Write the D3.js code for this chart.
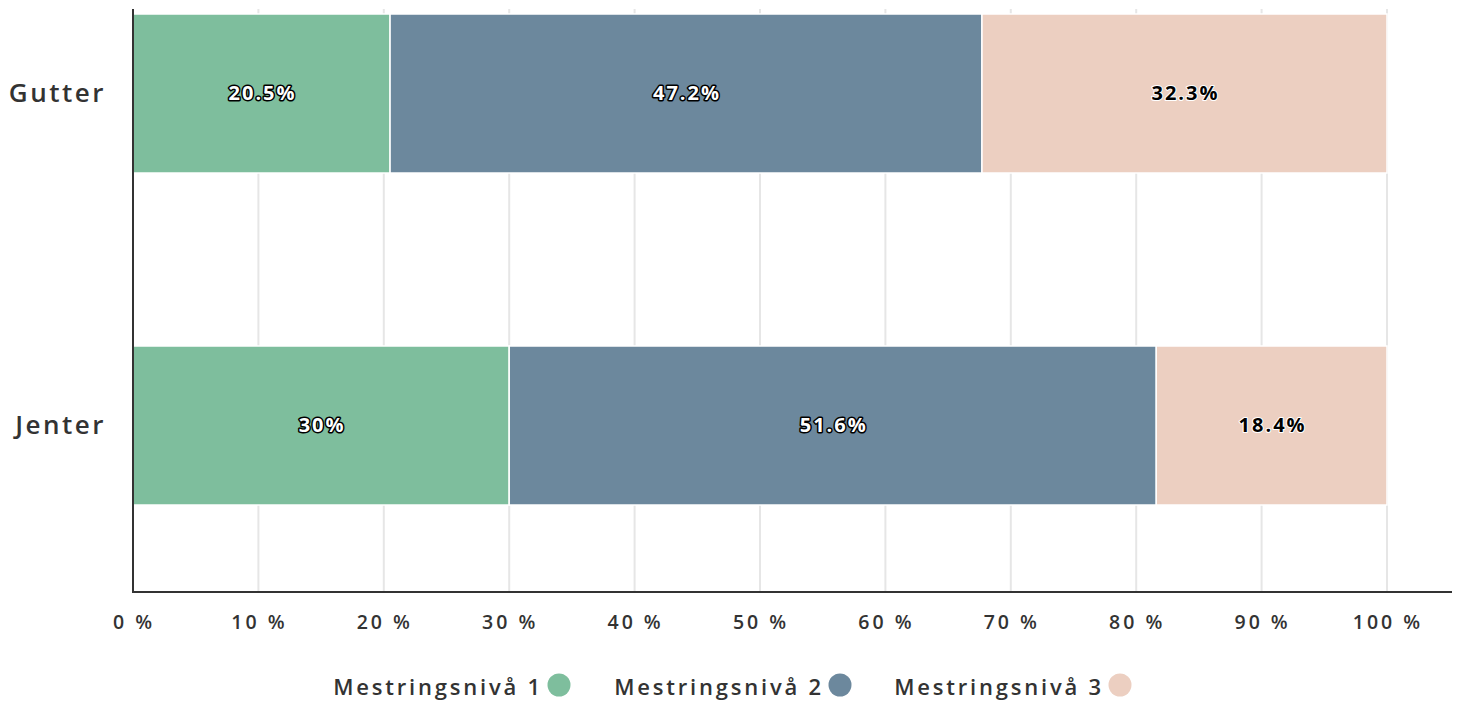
<!DOCTYPE html>
<html><head><meta charset="utf-8">
<script src="https://cdn.jsdelivr.net/npm/d3@7"></script>
<style>body{margin:0;background:#fff}svg{display:block}text{font-family:"Open Sans",sans-serif}</style>
</head><body>
<svg id="c" width="1460" height="702"></svg>
<script>
const categories = ["Gutter", "Jenter"];
const seriesNames = ["Mestringsnivå 1", "Mestringsnivå 2", "Mestringsnivå 3"];
const level1 = [20.5, 30];
const level2 = [47.2, 51.6];
const level3 = [32.3, 18.4];
const labels1 = ["20.5%", "30%"];
const labels2 = ["47.2%", "51.6%"];
const labels3 = ["32.3%", "18.4%"];
const xTicks = [0,10,20,30,40,50,60,70,80,90,100];
const colors = ["#7ebe9d", "#6c889d", "#eccfc1"];

const svg = d3.select("#c");
const x = d3.scaleLinear().domain([0, 100]).range([133, 1387]);
const y = d3.scalePoint().domain(categories).range([93.5, 425.5]);
const barH = 159;
const plotTop = 9, plotBottom = 592, axisRight = 1452;

// grid
svg.append("g").selectAll("line").data(xTicks.slice(1)).join("line")
  .attr("x1", d => x(d)).attr("x2", d => x(d))
  .attr("y1", plotTop).attr("y2", plotBottom)
  .attr("stroke", "#e6e6e6").attr("stroke-width", 2);

const series = [level1, level2, level3];
const lbls = [labels1, labels2, labels3];
const g = svg.append("g");
categories.forEach((c, i) => {
  let acc = 0;
  series.forEach((s, k) => {
    const v = s[i];
    const x0 = x(acc), x1 = x(acc + v);
    g.append("rect").attr("x", x0).attr("y", y(c) - barH/2)
      .attr("width", x1 - x0).attr("height", barH)
      .attr("fill", colors[k]).attr("stroke", "#fff").attr("stroke-width", 1.5);
    const t = g.append("text").attr("x", (x0 + x1)/2 + 1).attr("y", y(c) - 1)
      .attr("text-anchor", "middle").attr("dominant-baseline", "central")
      .attr("font-size", 20).attr("font-weight", 700).attr("letter-spacing", 2)
      .attr("stroke-linejoin", "round").attr("paint-order", "stroke")
      .text(lbls[k][i]);
    if (k === 2) {
      t.attr("fill", "#000").attr("stroke", "#fff").attr("stroke-width", 2);
    } else {
      t.attr("fill", "#fff").attr("stroke", "#000").attr("stroke-width", 3);
    }
    acc += v;
  });
});

// axes lines
svg.append("line").attr("x1", 133).attr("x2", 133).attr("y1", plotTop).attr("y2", plotBottom)
  .attr("stroke", "#333").attr("stroke-width", 2);
svg.append("line").attr("x1", 132).attr("x2", axisRight).attr("y1", plotBottom).attr("y2", plotBottom)
  .attr("stroke", "#333").attr("stroke-width", 2);

// category labels
svg.append("g").selectAll("text").data(categories).join("text")
  .attr("x", 106).attr("y", d => y(d) - 2).attr("text-anchor", "end")
  .attr("dominant-baseline", "central").attr("font-size", 26).attr("font-weight", 600)
  .attr("letter-spacing", 2.5).attr("fill", "#333").text(d => d);

// tick labels
svg.append("g").selectAll("text").data(xTicks).join("text")
  .attr("x", d => x(d) + 1).attr("y", 621).attr("text-anchor", "middle")
  .attr("dominant-baseline", "central").attr("font-size", 19.5).attr("font-weight", 600)
  .attr("letter-spacing", 3).attr("fill", "#333").text(d => d + " %");

// legend
const legendCircleX = [559, 840, 1120];
const lg = svg.append("g");
seriesNames.forEach((n, k) => {
  lg.append("text").attr("x", legendCircleX[k] - 16).attr("y", 686)
    .attr("text-anchor", "end").attr("dominant-baseline", "central")
    .attr("font-size", 22).attr("font-weight", 600).attr("letter-spacing", 2.8)
    .attr("fill", "#333").text(n);
  lg.append("circle").attr("cx", legendCircleX[k]).attr("cy", 685).attr("r", 11.5)
    .attr("fill", colors[k]);
});
</script>
</body></html>
